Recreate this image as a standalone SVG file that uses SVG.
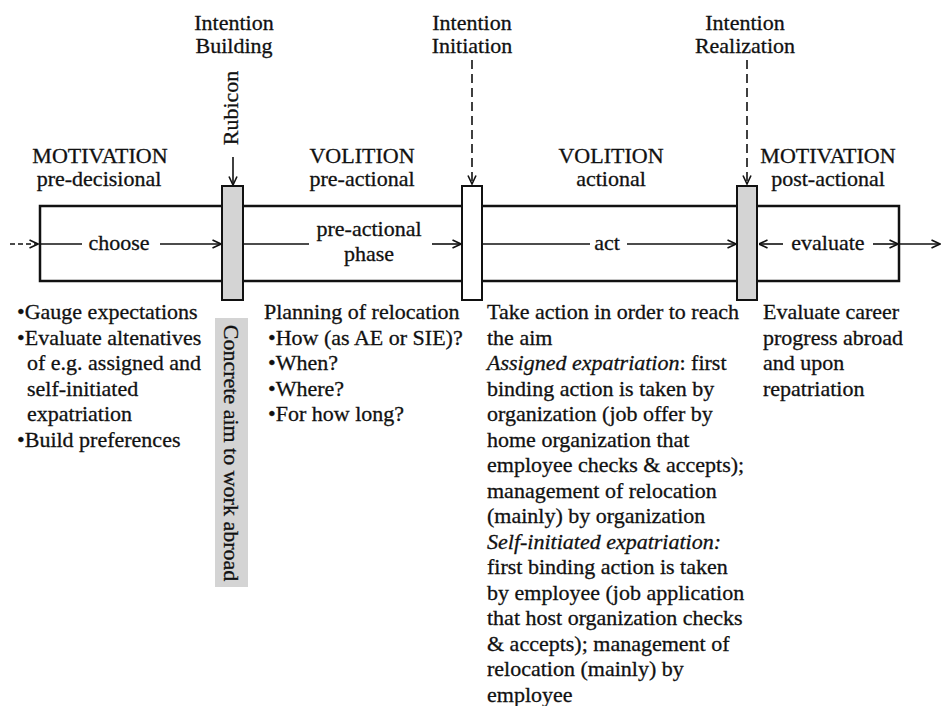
<svg xmlns="http://www.w3.org/2000/svg" width="941" height="706" viewBox="0 0 941 706" font-family="'Liberation Serif', 'DejaVu Serif', serif">
<style>
text{font-family:'Liberation Serif','DejaVu Serif',serif;font-size:22px;fill:#111;stroke:#111;stroke-width:0.3}
.mid{text-anchor:middle}
.ln{stroke:#111;stroke-width:1.6;fill:none}
.dash{stroke-dasharray:9 5}
.box{fill:none;stroke:#111;stroke-width:2.5}
.bar{stroke:#111;stroke-width:2}
.gray{fill:#d4d4d4}
.it{font-style:italic}
</style>
<defs>
<marker id="ah" viewBox="0 0 10 10" refX="9.5" refY="5" markerWidth="10" markerHeight="10" markerUnits="userSpaceOnUse" orient="auto">
<path d="M1,1 L9.5,5 L1,9" fill="none" stroke="#111" stroke-width="1.6"/>
</marker>
</defs>
<rect width="941" height="706" fill="#fff"/>

<g id="timeline-box">
<rect class="box" x="40" y="206" width="859" height="75"/>
</g>

<g id="connectors">
<line class="ln" x1="10" y1="244" x2="38" y2="244" stroke-dasharray="5 3" marker-end="url(#ah)"/>
<line class="ln" x1="40" y1="244" x2="82" y2="244"/>
<line class="ln" x1="160" y1="244" x2="221" y2="244" marker-end="url(#ah)"/>
<line class="ln" x1="243" y1="244" x2="309" y2="244"/>
<line class="ln" x1="432" y1="244" x2="461" y2="244" marker-end="url(#ah)"/>
<line class="ln" x1="483" y1="244" x2="590" y2="244"/>
<line class="ln" x1="627" y1="244" x2="736" y2="244" marker-end="url(#ah)"/>
<line class="ln" x1="783" y1="244" x2="759" y2="244" marker-end="url(#ah)"/>
<line class="ln" x1="873" y1="244" x2="898" y2="244" marker-end="url(#ah)"/>
<line class="ln" x1="899" y1="244" x2="940" y2="244" marker-end="url(#ah)"/>
<line class="ln" x1="233" y1="157" x2="233" y2="185" marker-end="url(#ah)"/>
<line class="ln dash" x1="472" y1="60" x2="472" y2="184" marker-end="url(#ah)"/>
<line class="ln dash" x1="747" y1="60" x2="747" y2="184" marker-end="url(#ah)"/>
</g>

<g id="bar-building">
<rect class="bar gray" x="222" y="186" width="21" height="114"/>
</g>
<g id="bar-initiation">
<rect class="bar" fill="#fff" x="462" y="186" width="20" height="114"/>
</g>
<g id="bar-realization">
<rect class="bar gray" x="737" y="186" width="20" height="114"/>
</g>

<g id="phase-labels">
<text class="mid" x="234" y="30">Intention</text>
<text class="mid" x="234" y="53">Building</text>
<text class="mid" x="472" y="30">Intention</text>
<text class="mid" x="472" y="53">Initiation</text>
<text class="mid" x="745" y="30">Intention</text>
<text class="mid" x="745" y="53">Realization</text>
<text class="mid" transform="translate(238,108) rotate(-90)">Rubicon</text>
<text class="mid" x="100" y="163">MOTIVATION</text>
<text class="mid" x="99" y="186">pre-decisional</text>
<text class="mid" x="362" y="163">VOLITION</text>
<text class="mid" x="362" y="186">pre-actional</text>
<text class="mid" x="611" y="163">VOLITION</text>
<text class="mid" x="611" y="186">actional</text>
<text class="mid" x="828" y="163">MOTIVATION</text>
<text class="mid" x="828" y="186">post-actional</text>
</g>

<g id="stage-labels">
<text class="mid" x="119" y="250">choose</text>
<text class="mid" x="369" y="236">pre-actional</text>
<text class="mid" x="369" y="261">phase</text>
<text class="mid" x="607" y="250">act</text>
<text class="mid" x="828" y="250">evaluate</text>
</g>

<g id="concrete-aim">
<rect class="gray" x="215" y="318" width="33" height="269"/>
<text class="mid" transform="translate(224,453) rotate(90)">Concrete aim to work abroad</text>
</g>

<g id="text-predecisional">
<text x="17" y="319">•Gauge  expectations</text>
<text x="17" y="344.5">•Evaluate altenatives</text>
<text x="27" y="370">of e.g. assigned and</text>
<text x="27" y="395.5">self-initiated</text>
<text x="27" y="421">expatriation</text>
<text x="17" y="446.5">•Build preferences</text>
</g>

<g id="text-preactional">
<text x="264" y="319">Planning of relocation</text>
<text x="268" y="344.5">•How (as AE or SIE)?</text>
<text x="268" y="370">•When?</text>
<text x="268" y="395.5">•Where?</text>
<text x="268" y="421">•For how long?</text>
</g>

<g id="text-actional">
<text x="487" y="319">Take action in order to reach</text>
<text x="487" y="344.5">the aim</text>
<text x="487" y="370"><tspan class="it">Assigned expatriation</tspan>: first</text>
<text x="487" y="395.5">binding action is taken by</text>
<text x="487" y="421">organization (job offer by</text>
<text x="487" y="446.5">home organization that</text>
<text x="487" y="472">employee checks &amp; accepts);</text>
<text x="487" y="497.5">management of relocation</text>
<text x="487" y="523">(mainly) by organization</text>
<text x="487" y="548.5"><tspan class="it">Self-initiated expatriation:</tspan></text>
<text x="487" y="574">first binding action is taken</text>
<text x="487" y="599.5">by employee (job application</text>
<text x="487" y="625">that host organization checks</text>
<text x="487" y="650.5">&amp; accepts); management of</text>
<text x="487" y="676">relocation (mainly) by</text>
<text x="487" y="701.5">employee</text>
</g>

<g id="text-postactional">
<text x="763" y="319">Evaluate career</text>
<text x="763" y="344.5">progress abroad</text>
<text x="763" y="370">and upon</text>
<text x="763" y="395.5">repatriation</text>
</g>
</svg>
